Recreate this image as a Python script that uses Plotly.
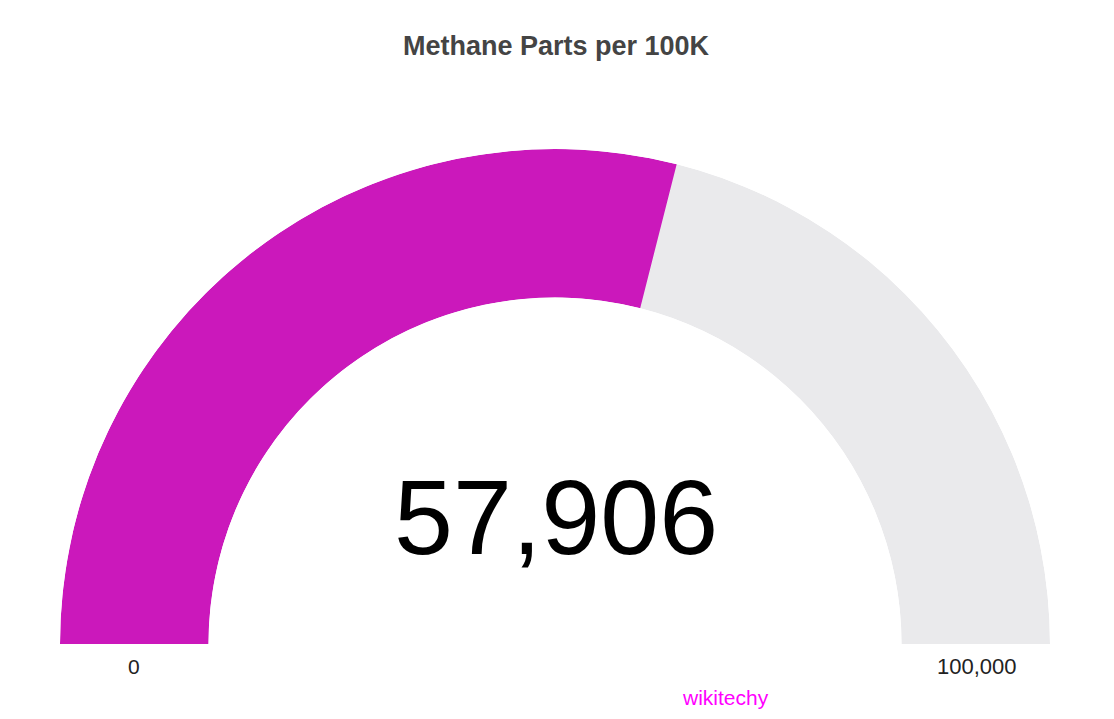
import plotly.graph_objects as go

# ---- data ----
title_text = "Methane Parts per 100K"
gauge_min = 0
gauge_max = 100000
gauge_value = 57906
min_label = "0"
max_label = "100,000"
watermark = "wikitechy"

fill_color = "#CB18BB"
track_color = "#EAEAEC"

W, H = 1114, 719

def to_deg(v):
    return (v - gauge_min) / (gauge_max - gauge_min) * 180.0

fig = go.Figure()

# background track (full range)
fig.add_trace(go.Barpolar(
    r=[1], base=[0],
    theta=[to_deg((gauge_min + gauge_max) / 2)],
    width=[to_deg(gauge_max)],
    marker=dict(color=track_color, line=dict(width=0)),
    hoverinfo="skip", showlegend=False,
))
# value bar
fig.add_trace(go.Barpolar(
    r=[1], base=[0],
    theta=[to_deg(gauge_value) / 2],
    width=[to_deg(gauge_value)],
    marker=dict(color=fill_color, line=dict(width=0)),
    hoverinfo="skip", showlegend=False,
))

cx, cy = 555, 644
R_out = 495
fig.update_layout(
    width=W, height=H,
    margin=dict(l=0, r=0, t=0, b=0),
    paper_bgcolor="white",
    polar=dict(
        domain=dict(x=[(cx - R_out) / W, (cx + R_out) / W],
                    y=[1 - cy / H, 1 - (cy - R_out) / H]),
        sector=[0, 180],
        hole=0.70,
        bgcolor="white",
        barmode="overlay",
        radialaxis=dict(visible=False, range=[0, 1]),
        angularaxis=dict(visible=False, rotation=180, direction="clockwise",
                         thetaunit="degrees"),
    ),
    font=dict(family="Liberation Sans, Arial, sans-serif"),
)

def ann(text, x, y, size, color):
    fig.add_annotation(text=text, x=x / W, y=1 - y / H,
                       xref="paper", yref="paper", showarrow=False,
                       xanchor="center", yanchor="middle",
                       font=dict(size=size, color=color))

ann("<b>" + title_text + "</b>", 556, 46, 27, "#444444")
ann(f"{gauge_value:,}", 556, 517, 106, "#000000")
ann(min_label, 134, 666, 21, "#222222")
ann(max_label, 977, 666, 22, "#222222")
ann(watermark, 725, 697, 21, "#FF00FF")

fig.write_html("out.html", config={"displayModeBar": False},
               post_script="document.body.style.margin='0';")
